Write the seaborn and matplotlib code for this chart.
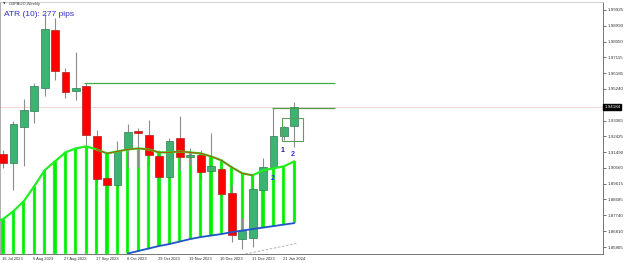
import numpy as np
import seaborn as sns
import matplotlib.pyplot as plt
from matplotlib.patches import Rectangle

# weekly GBPAUD candles, 16 Jul 2023 .. 28 Jan 2024
opens = [1.91359, 1.90827, 1.92954, 1.93958, 1.95317, 1.98743, 1.96262, 1.95140, 1.95435, 1.92422,
         1.89941, 1.89527, 1.91713, 1.92718, 1.92481, 1.91241, 1.90000, 1.92304, 1.91181, 1.91300,
         1.90354, 1.90472, 1.89055, 1.86337, 1.86396, 1.89232, 1.90591, 1.92422, 1.93072]
highs = [1.91595, 1.93367, 1.94667, 1.95612, 1.99689, 1.99452, 1.96498, 1.97443, 1.95612, 1.92777,
         1.90413, 1.92127, 1.93190, 1.92895, 1.93426, 1.91595, 1.92304, 1.93663, 1.91713, 1.91595,
         1.92599, 1.91004, 1.89527, 1.87578, 1.89823, 1.91122, 1.94135, 1.93072, 1.94490]
lows = [1.90532, 1.89232, 1.90650, 1.93249, 1.94844, 1.95790, 1.94726, 1.94608, 1.91890, 1.89645,
        1.88464, 1.89350, 1.90591, 1.90591, 1.90709, 1.88818, 1.89823, 1.90413, 1.90709, 1.89823,
        1.89823, 1.88050, 1.86160, 1.85746, 1.85864, 1.88818, 1.90413, 1.92186, 1.91772]
closes = [1.90827, 1.93190, 1.94017, 1.95435, 1.98802, 1.96321, 1.95081, 1.95317, 1.92481, 1.89882,
          1.89527, 1.91536, 1.92658, 1.92599, 1.91300, 1.90000, 1.92127, 1.91181, 1.91300, 1.90295,
          1.90650, 1.88995, 1.86573, 1.86810, 1.89291, 1.90591, 1.92422, 1.92954, 1.94184]

# channel indicator (upper line, lower line from bar 12 on)
upper = [1.87518, 1.87991, 1.88582, 1.89468, 1.90413, 1.90945, 1.91477, 1.91713, 1.91831, 1.91654,
         1.91418, 1.91536, 1.91654, 1.91713, 1.91654, 1.91477, 1.91477, 1.91536, 1.91477, 1.91418,
         1.91241, 1.91004, 1.90591, 1.90236, 1.90118, 1.90413, 1.90532, 1.90650, 1.90945]
lower = [1.85480, 1.85628, 1.85776, 1.85923, 1.86041, 1.86189, 1.86337, 1.86455, 1.86544,
         1.86632, 1.86750, 1.86839, 1.86928, 1.87016, 1.87105, 1.87194, 1.87282]
lower_start = 12

date_labels = ['16 Jul 2023', '6 Aug 2023', '27 Aug 2023', '17 Sep 2023', '8 Oct 2023',
               '29 Oct 2023', '19 Nov 2023', '10 Dec 2023', '31 Dec 2023', '21 Jan 2024']
date_bars = [0, 3, 6, 9, 12, 15, 18, 21, 24, 27]

price_labels = ['1.99925', '1.98990', '1.98050', '1.97115', '1.96185', '1.95240', '1.93365',
                '1.92425', '1.91490', '1.90560', '1.89615', '1.88685', '1.87740', '1.86810', '1.85865']
last_price = 1.94184

sns.set_style('white')
plt.rcParams['font.family'] = ['Liberation Sans', 'DejaVu Sans']

fig = plt.figure(figsize=(6.25, 2.63), dpi=100)
ax = fig.add_axes([0, 9 / 263, 603 / 625, 252 / 263])
ymin, ymax = 1.85450, 2.00398
ax.set_xlim(-0.29, 57.69)
ax.set_ylim(ymin, ymax)

n = len(opens)
x = np.arange(n)
o, h, l, c = map(np.array, (opens, highs, lows, closes))
up = np.array(upper)
bottoms = np.full(n, ymin)
bottoms[lower_start:] = lower

# current price line
ax.axhline(last_price, color='#f3cfcf', lw=0.6, zorder=0)

# histogram between the two lines
ax.bar(x, up - bottoms, bottom=bottoms, width=0.3, color='#00f000',
       edgecolor='#a8f5a8', linewidth=0.3, zorder=1)

# candles
bull = c >= o
ax.vlines(x, l, h, color='#8c8c8c', lw=0.8, zorder=2)
ax.bar(x, np.maximum(np.abs(c - o), 0.0006), bottom=np.minimum(o, c), width=0.75,
       color=np.where(bull, '#3cb371', '#ff0000'),
       edgecolor=np.where(bull, '#2e7d55', '#b02020'), linewidth=0.5, zorder=3)

# indicator lines
sns.lineplot(x=np.r_[-0.29, x], y=np.r_[1.87459, up], color='#22ee22', lw=1.6, ax=ax, zorder=4)
sns.lineplot(x=x[9:25], y=up[9:25], color='#b5520f', lw=0.8, ax=ax, zorder=5)
sns.lineplot(x=x[lower_start:], y=lower, color='#1f55c8', lw=1.3, ax=ax, zorder=4)
ax.plot([23.3, 28.2], [1.85450, 1.86071], color='#a8a8a8', lw=0.6, dashes=(3, 2), zorder=4)

# levels and box
ax.hlines(1.95612, 7.8, 31.9, color='#3cb043', lw=0.9, zorder=4)
ax.hlines(1.94135, 25.9, 31.9, color='#4d9e4d', lw=0.9, zorder=4)
ax.add_patch(Rectangle((26.8, 1.92127), 2.0, 1.93545 - 1.92127, fill=False,
                       edgecolor='#5d9e5d', lw=0.8, zorder=4))
ax.text(26.9, 1.91595, '1', color='#1a1a8c', fontsize=5, fontweight='bold', ha='center', va='center', zorder=6)
ax.text(27.9, 1.91359, '2', color='#2b2bff', fontsize=5, fontweight='bold', ha='center', va='center', zorder=6)
ax.text(25.9, 1.89941, '2', color='#2b2bff', fontsize=5, fontweight='bold', ha='center', va='center', zorder=6)

# axes
ax.yaxis.tick_right()
ax.set_yticks([float(p) for p in price_labels], price_labels)
ax.set_xticks(x[date_bars] - 0.1, date_labels)
plt.setp(ax.get_xticklabels(), ha='left')
ax.tick_params(axis='y', length=2, width=0.5, pad=1.5, labelsize=3.2, colors='#303030')
ax.tick_params(axis='x', length=0, pad=2, labelsize=2.9, colors='#303030')
ax.text(1.002, last_price, '1.94184', transform=ax.get_yaxis_transform(), color='white',
        fontsize=3.2, va='center', ha='left', clip_on=False,
        bbox=dict(facecolor='black', edgecolor='black', pad=0.6))
for side, col in [('left', '#a0a0a0'), ('top', '#c8c8c8'), ('right', '#606060'), ('bottom', '#606060')]:
    ax.spines[side].set_color(col)
    ax.spines[side].set_linewidth(0.6)

fig.text(3 / 625, 1 - 4 / 263, '\u25bc', fontsize=2.5, color='#404040', va='center',
         family=['DejaVu Sans'])
fig.text(9 / 625, 1 - 4 / 263, 'GBPAUD,Weekly', fontsize=3, color='#404040', va='center')
fig.text(4 / 625, 1 - 14 / 263, 'ATR (10): 277 pips', fontsize=6, color='#2f2fbf', va='center')

fig.savefig('out.png', dpi=100)
